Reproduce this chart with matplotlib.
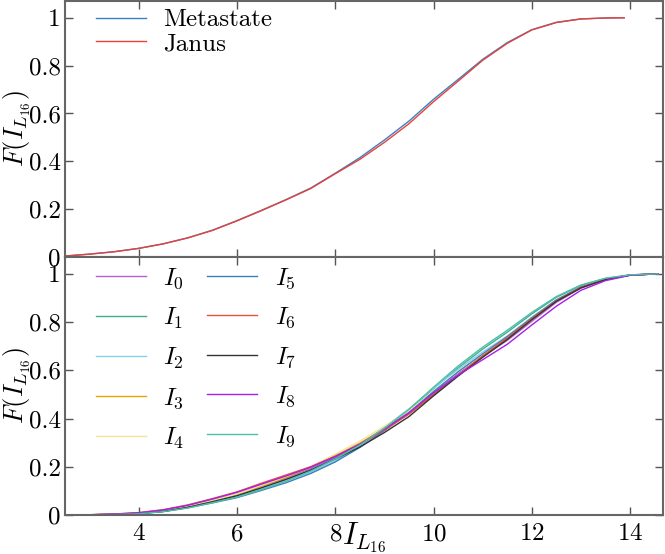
import numpy as np
import matplotlib
matplotlib.use('Agg')
import matplotlib.pyplot as plt
from matplotlib.ticker import FixedLocator, FuncFormatter

# Computer Modern look, like a LaTeX figure
plt.rcParams['font.family'] = 'serif'
plt.rcParams['font.serif'] = ['cmr10']
plt.rcParams['mathtext.fontset'] = 'cm'
plt.rcParams['axes.formatter.use_mathtext'] = True

# Top panel: cumulative distributions, Metastate vs Janus
x_top = [2.5, 3.0, 3.5, 4.0, 4.5, 5.0, 5.5, 6.0, 6.5, 7.0, 7.5, 8.0, 8.5, 9.0,
         9.5, 10.0, 10.5, 11.0, 11.5, 12.0, 12.5, 13.0, 13.5, 13.88]
F_metastate = [0.004, 0.012, 0.022, 0.036, 0.055, 0.080, 0.112, 0.152, 0.195, 0.240,
               0.288, 0.350, 0.415, 0.489, 0.568, 0.659, 0.742, 0.826, 0.896, 0.950,
               0.981, 0.995, 0.999, 1.0]
F_janus = [0.004, 0.012, 0.022, 0.036, 0.055, 0.080, 0.111, 0.151, 0.194, 0.239,
           0.286, 0.348, 0.408, 0.479, 0.557, 0.649, 0.735, 0.822, 0.893, 0.949,
           0.980, 0.995, 0.999, 1.0]

# Bottom panel: cumulative distributions for I_0 ... I_9
x_bot = [2.5, 3.0, 3.5, 4.0, 4.5, 5.0, 5.5, 6.0, 6.5, 7.0, 7.5, 8.0, 8.5, 9.0,
         9.5, 10.0, 10.5, 11.0, 11.5, 12.0, 12.5, 13.0, 13.5, 14.0, 14.56]
F_I = [
    [0.0, 0.001, 0.003, 0.007, 0.018, 0.036, 0.060, 0.086, 0.120, 0.154, 0.192, 0.238,
     0.291, 0.356, 0.424, 0.508, 0.586, 0.658, 0.724, 0.803, 0.882, 0.941, 0.977, 0.995, 1.0],
    [0.0, 0.001, 0.002, 0.006, 0.015, 0.031, 0.053, 0.076, 0.108, 0.144, 0.186, 0.234,
     0.292, 0.360, 0.434, 0.524, 0.610, 0.688, 0.758, 0.834, 0.903, 0.952, 0.981, 0.996, 1.0],
    [0.0, 0.001, 0.003, 0.007, 0.016, 0.033, 0.056, 0.080, 0.110, 0.142, 0.177, 0.224,
     0.288, 0.364, 0.440, 0.526, 0.604, 0.676, 0.742, 0.820, 0.892, 0.946, 0.978, 0.995, 1.0],
    [0.0, 0.001, 0.003, 0.008, 0.018, 0.036, 0.060, 0.085, 0.120, 0.156, 0.198, 0.246,
     0.298, 0.358, 0.422, 0.500, 0.580, 0.656, 0.730, 0.812, 0.888, 0.944, 0.978, 0.995, 1.0],
    [0.0, 0.001, 0.003, 0.008, 0.019, 0.037, 0.061, 0.087, 0.123, 0.160, 0.202, 0.252,
     0.306, 0.368, 0.432, 0.514, 0.594, 0.668, 0.738, 0.818, 0.892, 0.946, 0.978, 0.995, 1.0],
    [0.0, 0.001, 0.002, 0.006, 0.014, 0.030, 0.050, 0.072, 0.102, 0.134, 0.172, 0.220,
     0.280, 0.350, 0.424, 0.512, 0.594, 0.668, 0.740, 0.818, 0.892, 0.946, 0.978, 0.995, 1.0],
    [0.0, 0.001, 0.004, 0.010, 0.022, 0.042, 0.068, 0.096, 0.132, 0.166, 0.200, 0.244,
     0.292, 0.352, 0.418, 0.498, 0.580, 0.660, 0.734, 0.814, 0.888, 0.944, 0.977, 0.995, 1.0],
    [0.0, 0.001, 0.002, 0.006, 0.015, 0.032, 0.055, 0.080, 0.113, 0.148, 0.186, 0.232,
     0.282, 0.342, 0.408, 0.494, 0.576, 0.654, 0.728, 0.810, 0.886, 0.942, 0.976, 0.995, 1.0],
    [0.0, 0.001, 0.004, 0.009, 0.021, 0.040, 0.066, 0.094, 0.128, 0.162, 0.198, 0.242,
     0.294, 0.356, 0.424, 0.506, 0.580, 0.644, 0.708, 0.788, 0.866, 0.932, 0.972, 0.994, 1.0],
    [0.0, 0.001, 0.002, 0.005, 0.014, 0.029, 0.051, 0.074, 0.105, 0.140, 0.182, 0.232,
     0.290, 0.360, 0.438, 0.530, 0.618, 0.696, 0.766, 0.840, 0.906, 0.954, 0.982, 0.996, 1.0],
]
labels_I = [r'$I_{%d}$' % i for i in range(10)]
colors_I = ['#b15fd6', '#3fae8f', '#87cdf0', '#e8a500', '#f3e39a',
            '#3b7fc0', '#e8503a', '#333333', '#a41fe8', '#4cbfa6']

yticks = [0, 0.2, 0.4, 0.6, 0.8, 1.0]
xticks = [4, 6, 8, 10, 12, 14]


def fmt(v, pos):
    return '%g' % round(v, 1)


def style_axes(ax):
    ax.set_xlim(2.5, 14.67)
    ax.set_ylim(0, 1.07)
    ax.xaxis.set_major_locator(FixedLocator(xticks))
    ax.yaxis.set_major_locator(FixedLocator(yticks))
    ax.yaxis.set_major_formatter(FuncFormatter(fmt))
    ax.tick_params(direction='in', top=True, right=True, length=6, width=1,
                   color='#555555', labelsize=18)
    ax.tick_params(axis='x', pad=6)
    ax.tick_params(axis='y', pad=3)
    for s in ax.spines.values():
        s.set_color('#666666')
        s.set_linewidth(1.5)
    ax.set_ylabel(r'$F(I_{L_{16}})$', fontsize=19)
    ax.yaxis.set_label_coords(-0.054, 0.5)


fig = plt.figure(figsize=(6.65, 5.54), dpi=100)
ax1 = fig.add_axes([0.0977, 0.5361, 0.8993, 0.4621])
ax2 = fig.add_axes([0.0977, 0.0704, 0.8993, 0.4657])

ax1.plot(x_top, F_metastate, color='#3a80c0', lw=1, label='Metastate')
ax1.plot(x_top, F_janus, color='#e8413a', lw=1, label='Janus')
style_axes(ax1)
ax1.tick_params(labelbottom=False)
ax1.legend(loc='upper left', bbox_to_anchor=(0.035, 1.008), frameon=False,
           fontsize=18, handlelength=2.0, handletextpad=0.7, labelspacing=0.05,
           borderaxespad=0)

for F, lab, c in zip(F_I, labels_I, colors_I):
    ax2.plot(x_bot, F, color=c, lw=1, label=lab)
style_axes(ax2)
ax2.set_xlabel(r'$I_{L_{16}}$', fontsize=22)
ax2.xaxis.set_label_coords(0.5, -0.022)
ax2.legend(loc='upper left', bbox_to_anchor=(0.035, 1.004), frameon=False,
           fontsize=18, ncol=2, handlelength=2.0, handletextpad=0.7,
           labelspacing=0.6, columnspacing=0.9, borderaxespad=0)

fig.savefig('out.png', dpi=100)
